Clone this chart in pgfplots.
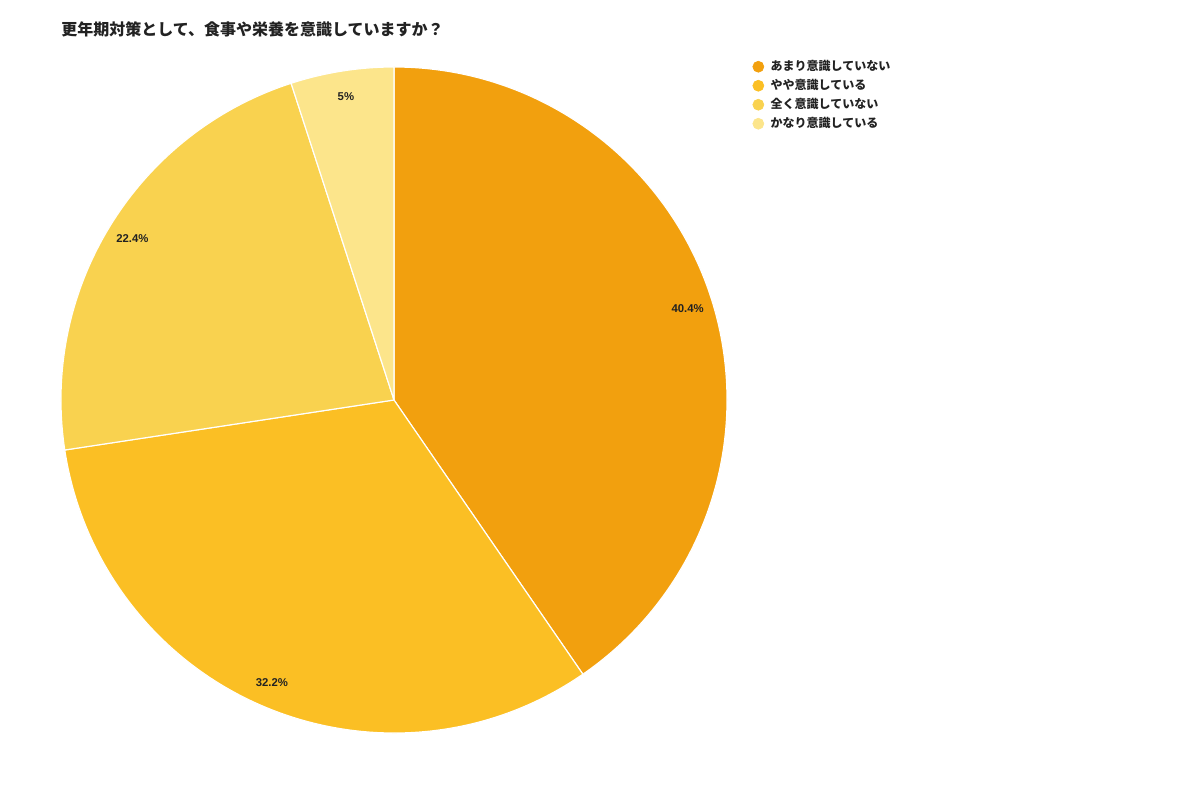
\documentclass[border=0pt]{standalone}
\usepackage{fontspec}
\setmainfont{Liberation Sans}
\newfontfamily\cjk{Noto Sans CJK JP}
\usepackage{pgfplots}
\usepackage{pgfplotstable}
\pgfplotsset{compat=1.18}

\definecolor{c0}{HTML}{F2A00E}
\definecolor{c1}{HTML}{FBBF24}
\definecolor{c2}{HTML}{F9D24F}
\definecolor{c3}{HTML}{FCE58B}
\definecolor{txt}{HTML}{222222}

\pgfplotsset{
  pie legend/.style={legend image code/.code={\fill[##1] (0pt,0pt) circle (3.3pt);}},
}

% share of answers, clockwise from the top
\pgfplotstableread{
value
40.4
32.2
22.4
5
}\piedata

\begin{document}
\begin{tikzpicture}
\def\acc{90}
\pgfplotsforeachungrouped \i in {0,...,3}{%
  \pgfplotstablegetelem{\i}{value}\of\piedata
  \let\v\pgfplotsretval
  \pgfmathsetmacro\endang{\acc-3.6*\v}
  \pgfmathsetmacro\midang{(\acc+\endang)/2}
  \expandafter\xdef\csname sa\i\endcsname{\acc}
  \expandafter\xdef\csname ea\i\endcsname{\endang}
  \expandafter\xdef\csname ma\i\endcsname{\midang}
  \expandafter\xdef\csname lb\i\endcsname{\v}
  \xdef\acc{\endang}
}
\begin{axis}[
  x=0.6pt, y=0.6pt,
  xmin=0, xmax=1200, ymin=0, ymax=800,
  hide axis, clip=false,
  legend style={at={(axis cs:752.5,740)}, anchor=north west,
    draw=none, fill=none, inner sep=0pt, outer sep=0pt,
    font=\cjk\bfseries\fontsize{7.2}{8.6}\selectfont, text=txt,
    row sep=3.3pt, column sep=3.9pt,
    nodes={inner sep=0pt, text height=6.6pt, text depth=1.5pt}},
  legend cell align=left,
]
\path (axis cs:0,0) rectangle (axis cs:1200,800);

\pgfplotsinvokeforeach{0,...,3}{%
  \fill[c#1, draw=white, line width=0.7pt, line join=round]
    (axis cs:394,400) -- ++({\csname sa#1\endcsname}:199.8pt)
    arc[start angle={\csname sa#1\endcsname}, end angle={\csname ea#1\endcsname}, radius=199.8pt]
    -- cycle;
}
\pgfplotsinvokeforeach{0,...,3}{%
  \path (axis cs:394,400) ++({\csname ma#1\endcsname}:184.5pt)
    node[font=\bfseries\fontsize{6.8}{8}\selectfont, text=txt] {\csname lb#1\endcsname\%};
}

\node[anchor=west, inner sep=0pt, font=\cjk\bfseries\fontsize{9.6}{11}\selectfont, text=txt]
  at (axis cs:61,771) {更年期対策として、食事や栄養を意識していますか？};

\addlegendimage{pie legend, c0}
\addlegendentry{あまり意識していない}
\addlegendimage{pie legend, c1}
\addlegendentry{やや意識している}
\addlegendimage{pie legend, c2}
\addlegendentry{全く意識していない}
\addlegendimage{pie legend, c3}
\addlegendentry{かなり意識している}
\end{axis}
\end{tikzpicture}
\end{document}
